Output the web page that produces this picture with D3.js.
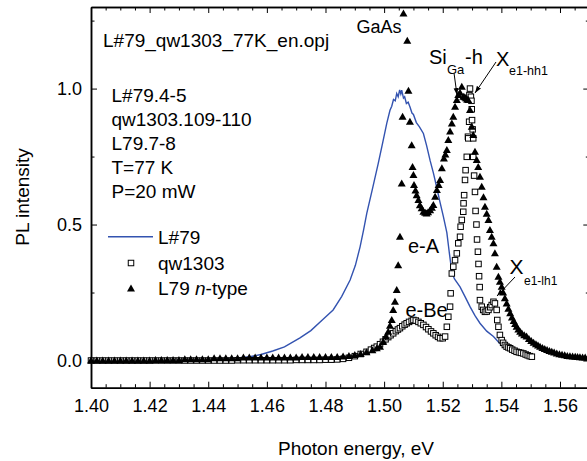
<!DOCTYPE html>
<html><head><meta charset="utf-8">
<script src="https://cdn.jsdelivr.net/npm/d3@7"></script>
<style>
body{margin:0;background:#fff}
svg{display:block}
text{font-family:"Liberation Sans",Arial,Helvetica,sans-serif;fill:#000}
</style>
</head><body>
<svg id="chart" width="587" height="461"></svg>
<script>
// ---------- data ----------
const xMajorTicks = [1.40,1.42,1.44,1.46,1.48,1.50,1.52,1.54,1.56];
const yMajorTicks = [0.0,0.5,1.0];
const yMinorTicks = [0.25,0.75,1.25];

// L#79 (blue line)
const l79E = [1.400,1.410,1.420,1.430,1.440,1.446,1.450,1.4542,1.458,1.462,1.466,1.4713,1.475,1.479,1.4826,1.4855,1.4884,1.4902,1.4918,1.493,1.4941,1.496,1.498,1.4995,1.5009,1.502,1.5026,1.5032,1.5038,1.5043,1.5048,1.5053,1.5057,1.506,1.5066,1.507,1.5076,1.5082,1.5088,1.5095,1.510,1.511,1.512,1.5134,1.5145,1.5157,1.5168,1.5179,1.519,1.5202,1.5214,1.5222,1.5231,1.524,1.5259,1.5276,1.5293,1.531,1.5327,1.535,1.5373,1.539,1.5407];
const l79I = [0.000,0.001,0.002,0.003,0.005,0.007,0.009,0.014,0.022,0.035,0.050,0.083,0.110,0.150,0.186,0.235,0.296,0.350,0.418,0.480,0.542,0.630,0.725,0.800,0.872,0.920,0.935,0.960,0.955,0.982,0.970,0.995,0.980,0.994,0.965,0.970,0.945,0.950,0.933,0.910,0.905,0.875,0.860,0.835,0.790,0.735,0.690,0.639,0.585,0.530,0.470,0.400,0.325,0.300,0.271,0.235,0.198,0.165,0.137,0.108,0.088,0.068,0.051];

// qw1303 (open squares)
const qwE = [1.400,1.402,1.404,1.406,1.408,1.410,1.412,1.414,1.416,1.418,1.420,1.422,1.424,1.426,1.428,1.430,1.432,1.434,1.436,1.438,1.440,1.442,1.444,1.446,1.448,1.450,1.452,1.454,1.456,1.458,1.460,1.462,1.464,1.466,1.468,1.470,1.472,1.474,1.476,1.478,1.480,1.482,1.484,1.486,1.488,1.490,1.492,1.494,1.4955,1.4966,1.4975,1.4986,1.4996,1.5005,1.5014,1.5022,1.5031,1.504,1.5047,1.5054,1.5062,1.507,1.5077,1.5085,1.5094,1.510,1.5108,1.5117,1.5125,1.5134,1.5143,1.5151,1.516,1.5168,1.5176,1.5184,1.5191,1.520,1.5208,1.5214,1.5219,1.5225,1.5227,1.5231,1.5236,1.5242,1.5248,1.5253,1.5259,1.5261,1.5265,1.527,1.5271,1.5273,1.5276,1.5278,1.5282,1.5286,1.5287,1.5290,1.5291,1.5293,1.5296,1.5298,1.5299,1.5300,1.5302,1.5304,1.5304,1.5307,1.531,1.5312,1.5315,1.5317,1.532,1.5322,1.5324,1.5326,1.5327,1.5333,1.5338,1.5344,1.535,1.5356,1.5362,1.5367,1.5373,1.5378,1.5384,1.5386,1.539,1.5395,1.5401,1.5406,1.5412,1.5418,1.5424,1.543,1.5437,1.5445,1.5452,1.546,1.5467,1.5475,1.5483,1.549,1.5497,1.5504];
const qwI = [0.000,0.000,0.000,0.000,0.000,0.000,0.000,0.000,0.000,0.000,0.000,0.000,0.000,0.000,0.000,0.000,0.000,0.000,0.000,0.000,0.000,0.000,0.000,0.000,0.000,0.001,0.001,0.001,0.001,0.001,0.001,0.001,0.001,0.001,0.001,0.002,0.002,0.002,0.002,0.002,0.003,0.003,0.004,0.006,0.010,0.016,0.024,0.032,0.040,0.046,0.051,0.060,0.069,0.078,0.086,0.093,0.100,0.108,0.114,0.119,0.126,0.132,0.137,0.142,0.146,0.149,0.147,0.142,0.137,0.131,0.123,0.115,0.107,0.100,0.093,0.087,0.082,0.082,0.088,0.124,0.161,0.198,0.247,0.320,0.345,0.369,0.394,0.431,0.455,0.492,0.517,0.547,0.578,0.608,0.664,0.700,0.749,0.823,0.817,0.878,0.976,1.000,0.970,0.955,0.924,0.884,0.850,0.817,0.749,0.680,0.620,0.550,0.500,0.445,0.400,0.355,0.310,0.270,0.222,0.198,0.186,0.179,0.180,0.186,0.196,0.204,0.216,0.210,0.186,0.149,0.124,0.094,0.075,0.065,0.057,0.051,0.048,0.045,0.040,0.036,0.032,0.030,0.028,0.026,0.022,0.019,0.016,0.014];

// L79 n-type (filled triangles)
const ntE = [1.400,1.402,1.404,1.406,1.408,1.410,1.412,1.414,1.416,1.418,1.420,1.422,1.424,1.426,1.428,1.430,1.432,1.434,1.436,1.438,1.440,1.442,1.444,1.446,1.448,1.450,1.452,1.454,1.456,1.458,1.460,1.462,1.464,1.466,1.468,1.470,1.472,1.474,1.476,1.478,1.480,1.482,1.484,1.486,1.488,1.490,1.492,1.494,1.496,1.4975,1.4986,1.4997,1.5006,1.5014,1.502,1.5026,1.5031,1.5037,1.5043,1.5048,1.5054,1.506,1.5063,1.5066,1.5079,1.5083,1.5088,1.5094,1.5097,1.510,1.5102,1.5107,1.5111,1.5117,1.5122,1.5128,1.5134,1.514,1.5145,1.515,1.5157,1.5163,1.5168,1.5174,1.518,1.5186,1.5191,1.5197,1.5204,1.5209,1.5214,1.5219,1.5225,1.5231,1.5236,1.5242,1.5248,1.5253,1.5259,1.5265,1.527,1.5275,1.5279,1.5283,1.5287,1.5293,1.5299,1.5304,1.531,1.5316,1.5321,1.5327,1.5333,1.5339,1.5344,1.535,1.5356,1.5361,1.5367,1.5373,1.5378,1.5384,1.539,1.5395,1.5401,1.5406,1.5412,1.5418,1.5424,1.543,1.5436,1.5442,1.5447,1.5452,1.5458,1.5464,1.547,1.5478,1.5486,1.5494,1.5502,1.551,1.5518,1.5525,1.5532,1.554,1.5548,1.5556,1.5564,1.5572,1.558,1.5589,1.5598,1.5607,1.5616,1.5625,1.5634,1.5643,1.5652,1.566,1.5668,1.5677,1.5686,1.5695,1.5704,1.5713];
const ntI = [0.000,0.000,0.000,0.000,0.000,0.000,0.000,0.000,0.000,0.000,0.000,0.002,0.002,0.002,0.002,0.002,0.005,0.005,0.005,0.005,0.005,0.008,0.008,0.008,0.008,0.008,0.011,0.011,0.011,0.011,0.011,0.011,0.011,0.011,0.011,0.011,0.013,0.013,0.013,0.013,0.013,0.013,0.013,0.015,0.017,0.020,0.024,0.030,0.038,0.045,0.051,0.069,0.088,0.106,0.128,0.149,0.186,0.216,0.259,0.350,0.455,0.651,0.896,1.276,1.176,0.992,0.878,0.792,0.712,0.682,0.645,0.625,0.608,0.590,0.571,0.560,0.547,0.543,0.541,0.545,0.553,0.562,0.572,0.602,0.627,0.645,0.664,0.707,0.743,0.758,0.774,0.811,0.842,0.872,0.896,0.933,0.958,0.976,0.985,1.007,0.970,0.968,0.964,0.960,0.958,0.921,0.860,0.829,0.768,0.737,0.712,0.676,0.639,0.600,0.565,0.540,0.517,0.480,0.455,0.431,0.394,0.345,0.308,0.290,0.271,0.250,0.229,0.210,0.190,0.174,0.158,0.145,0.134,0.124,0.114,0.106,0.099,0.093,0.088,0.079,0.072,0.065,0.060,0.055,0.051,0.046,0.042,0.039,0.035,0.032,0.029,0.026,0.023,0.021,0.019,0.017,0.016,0.015,0.014,0.013,0.012,0.011,0.011,0.010,0.010,0.009];

const seriesNames = ["L#79","qw1303","L79 "];

// ---------- drawing ----------
(function(){
const svg = d3.select("#chart");
const pL = 91, pR = 589.3, pT = 7, pB = 387.7;
const x = d3.scaleLinear().domain([1.40,1.57]).range([pL,pR]);
const y = d3.scaleLinear().domain([-0.1,1.3]).range([pB,pT]);

const xMinorTicks = d3.range(0,35).map(i => +(1.40 + i*0.005).toFixed(3)).filter(v => !xMajorTicks.some(m => Math.abs(m-v)<1e-6));

svg.append("defs").append("marker")
  .attr("id","arr").attr("viewBox","0 0 10 10").attr("refX",10).attr("refY",5)
  .attr("markerWidth",7).attr("markerHeight",7).attr("markerUnits","userSpaceOnUse")
  .attr("orient","auto")
  .append("path").attr("d","M0,1.5 L10,5 L0,8.5 Z").attr("fill","#000");

// data
const line = d3.line().x(d => x(d[0])).y(d => y(d[1]));
svg.append("path").datum(l79E.map((e,i)=>[e,l79I[i]]))
  .attr("d", line).attr("fill","none").attr("stroke","#3353b0").attr("stroke-width",1.4);

const sq = 5.5;
svg.append("g").selectAll("rect").data(qwE.map((e,i)=>[e,qwI[i]])).join("rect")
  .attr("x", d => x(d[0]) - sq/2).attr("y", d => y(d[1]) - sq/2)
  .attr("width", sq).attr("height", sq)
  .attr("fill","#fff").attr("stroke","#000").attr("stroke-width",1);

const tri = "M0,-4L4,3L-4,3Z";
svg.append("g").selectAll("path").data(ntE.map((e,i)=>[e,ntI[i]])).join("path")
  .attr("d", tri).attr("transform", d => `translate(${x(d[0])},${y(d[1])})`)
  .attr("fill","#000");

// axes
function styleAxis(g){
  g.select(".domain").attr("stroke","#000").attr("stroke-width",1.5);
  g.selectAll(".tick line").attr("stroke","#000").attr("stroke-width",1);
}
const fmtX = d3.format(".2f"), fmtY = d3.format(".1f");
const gx = svg.append("g").attr("transform",`translate(0,${pB})`)
  .call(d3.axisBottom(x).tickValues(xMajorTicks).tickSize(-6).tickSizeOuter(0).tickPadding(12).tickFormat(fmtX));
gx.selectAll("text").attr("font-size",18).attr("font-family","Liberation Sans, Arial, sans-serif");
styleAxis(gx);
const gxm = svg.append("g").attr("transform",`translate(0,${pB})`)
  .call(d3.axisBottom(x).tickValues(xMinorTicks).tickSize(-3.5).tickSizeOuter(0).tickFormat(""));
styleAxis(gxm);
const gt = svg.append("g").attr("transform",`translate(0,${pT})`)
  .call(d3.axisTop(x).tickValues(xMajorTicks).tickSize(-6).tickSizeOuter(0).tickFormat(""));
styleAxis(gt);
const gtm = svg.append("g").attr("transform",`translate(0,${pT})`)
  .call(d3.axisTop(x).tickValues(xMinorTicks).tickSize(-3.5).tickSizeOuter(0).tickFormat(""));
styleAxis(gtm);

const gy = svg.append("g").attr("transform",`translate(${pL},0)`)
  .call(d3.axisLeft(y).tickValues(yMajorTicks).tickSize(-6).tickSizeOuter(0).tickPadding(9).tickFormat(fmtY));
gy.selectAll("text").attr("font-size",18).attr("font-family","Liberation Sans, Arial, sans-serif");
styleAxis(gy);
const gym = svg.append("g").attr("transform",`translate(${pL},0)`)
  .call(d3.axisLeft(y).tickValues(yMinorTicks).tickSize(-3.5).tickSizeOuter(0).tickFormat(""));
styleAxis(gym);
const gr = svg.append("g").attr("transform",`translate(${pR},0)`)
  .call(d3.axisRight(y).tickValues(yMajorTicks).tickSize(-6).tickSizeOuter(0).tickFormat(""));
styleAxis(gr);
const grm = svg.append("g").attr("transform",`translate(${pR},0)`)
  .call(d3.axisRight(y).tickValues(yMinorTicks).tickSize(-3.5).tickSizeOuter(0).tickFormat(""));
styleAxis(grm);

// axis titles
svg.append("text").attr("x",356).attr("y",455).attr("text-anchor","middle").attr("font-size",19).text("Photon energy, eV");
svg.append("text").attr("transform","translate(29,197) rotate(-90)").attr("text-anchor","middle").attr("font-size",19).text("PL intensity");

// info text
const T = (xx,yy,fs,txt) => svg.append("text").attr("x",xx).attr("y",yy).attr("font-size",fs).text(txt);
T(103,47,19,"L#79_qw1303_77K_en.opj");
const info = ["L#79.4-5","qw1303.109-110","L79.7-8","T=77 K","P=20 mW"];
info.forEach((s,i)=>T(111.5,102+i*24,19,s));

// legend
svg.append("line").attr("x1",108).attr("x2",153).attr("y1",236.7).attr("y2",236.7).attr("stroke","#3353b0").attr("stroke-width",1.4);
svg.append("rect").attr("x",131-sq/2).attr("y",263-sq/2).attr("width",sq).attr("height",sq).attr("fill","#fff").attr("stroke","#000");
svg.append("path").attr("d",tri).attr("transform","translate(131,288.5)").attr("fill","#000");
T(158,244,19,seriesNames[0]);
T(158,269.5,19,seriesNames[1]);
const lt = T(158,295,19,seriesNames[2]);
lt.append("tspan").attr("font-style","italic").text("n");
lt.append("tspan").text("-type");

// annotations
T(356.5,33,18,"GaAs");
T(429,64,20,"Si");
T(447,73.5,13,"Ga");
T(465,64,20,"-h");
T(496,65.5,20,"X");
T(509,75,12.5,"e1-hh1");
T(509.5,273.5,21,"X");
T(524,284.5,12,"e1-lh1");
T(408,252.5,20,"e-A");
T(405.5,317,20,"e-Be");

const arrow = (x1,y1,x2,y2) => svg.append("line").attr("x1",x1).attr("y1",y1).attr("x2",x2).attr("y2",y2)
  .attr("stroke","#000").attr("stroke-width",1).attr("marker-end","url(#arr)");
arrow(454,73,457,95);
arrow(496,62,475,93);
arrow(515,277,497,296);
})();
</script>
</body></html>
